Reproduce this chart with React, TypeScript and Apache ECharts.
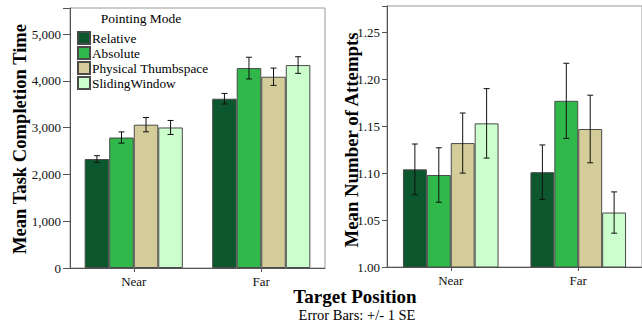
import React, { useEffect, useRef } from "react";
import * as echarts from "echarts";

const categories = ["Near", "Far"];
const modes = ["Relative", "Absolute", "Physical Thumbspace", "SlidingWindow"];
const colors = ["#0c572d", "#30b84b", "#d4cd9a", "#ccfdcc"];

// Mean task completion time (ms) per mode: [Near, Far]
const timeRelative = [2330, 3620];
const timeAbsolute = [2790, 4275];
const timePhysical = [3065, 4090];
const timeSliding = [3005, 4340];
// Standard errors
const timeSERelative = [72, 113];
const timeSEAbsolute = [120, 232];
const timeSEPhysical = [153, 185];
const timeSESliding = [150, 178];

// Mean number of attempts
const attRelative = [1.104, 1.101];
const attAbsolute = [1.098, 1.177];
const attPhysical = [1.132, 1.147];
const attSliding = [1.153, 1.058];
const attSERelative = [0.027, 0.029];
const attSEAbsolute = [0.029, 0.04];
const attSEPhysical = [0.032, 0.036];
const attSESliding = [0.037, 0.022];

const timeTicks = [0, 1000, 2000, 3000, 4000, 5000];
const attTicks = [1.0, 1.05, 1.1, 1.15, 1.2, 1.25];

const FONT = "'Liberation Serif', 'Times New Roman', serif";

export default function App() {
  const ref = useRef<HTMLDivElement>(null);
  useEffect(() => {
    if (!ref.current) return;
    const chart = echarts.init(ref.current, undefined, { renderer: "svg" });
    const timeMeans = [timeRelative, timeAbsolute, timePhysical, timeSliding];
    const timeSEs = [timeSERelative, timeSEAbsolute, timeSEPhysical, timeSESliding];
    const attMeans = [attRelative, attAbsolute, attPhysical, attSliding];
    const attSEs = [attSERelative, attSEAbsolute, attSEPhysical, attSESliding];
    const gaps = [0.23, 0.25];

    const series: any[] = [];
    [timeMeans, attMeans].forEach((means, g) => {
      means.forEach((vals, i) => {
        series.push({
          type: "bar",
          name: modes[i],
          xAxisIndex: g,
          yAxisIndex: g,
          data: vals,
          barGap: "0%",
          barCategoryGap: gaps[g] * 100 + "%",
          itemStyle: { color: colors[i], borderColor: "#4a4a4a", borderWidth: 1 },
        });
      });
    });
    [
      [timeMeans, timeSEs],
      [attMeans, attSEs],
    ].forEach(([means, ses], g) => {
      means.forEach((vals: number[], i: number) => {
        series.push({
          type: "custom",
          xAxisIndex: g,
          yAxisIndex: g,
          z: 10,
          silent: true,
          data: vals.map((v, k) => [k, v, ses[i][k]]),
          encode: { x: 0, y: 1 },
          renderItem: (params: any, api: any) => {
            const cat = api.value(0);
            const mean = api.value(1);
            const se = api.value(2);
            const band = api.size([1, 0])[0];
            const barW = (band * (1 - gaps[g])) / 4;
            const base = api.coord([cat, mean]);
            const x = base[0] + (i - 1.5) * barW;
            const top = api.coord([cat, mean + se])[1];
            const bot = api.coord([cat, mean - se])[1];
            const cap = 3;
            const st = { stroke: "#111", lineWidth: 1 };
            return {
              type: "group",
              children: [
                { type: "line", shape: { x1: x, y1: top, x2: x, y2: bot }, style: st },
                { type: "line", shape: { x1: x - cap, y1: top, x2: x + cap, y2: top }, style: st },
                { type: "line", shape: { x1: x - cap, y1: bot, x2: x + cap, y2: bot }, style: st },
              ],
            };
          },
        });
      });
    });

    const axisLine = { show: true, lineStyle: { color: "#555", width: 1 } };
    const labelStyle = { fontFamily: FONT, fontSize: 13, color: "#111" };

    chart.setOption({
      animation: false,
      grid: [
        { left: 70, top: 8, width: 255, height: 260, show: true, borderColor: "#999", borderWidth: 1, backgroundColor: "transparent" },
        { left: 387, top: 6, width: 264, height: 261, show: true, borderColor: "#999", borderWidth: 1, backgroundColor: "transparent" },
      ],
      xAxis: [0, 1].map((g) => ({
        type: "category",
        gridIndex: g,
        data: categories,
        axisLine,
        axisTick: { show: true, alignWithLabel: true, length: 4, lineStyle: { color: "#555" } },
        axisLabel: { ...labelStyle, margin: 7 },
      })),
      yAxis: [
        {
          type: "value",
          gridIndex: 0,
          min: 0,
          max: 5560,
          interval: 1000,
          axisLine,
          axisTick: { show: true, length: 7, lineStyle: { color: "#555" } },
          splitLine: { show: false },
          axisLabel: {
            ...labelStyle,
            margin: 9,
            formatter: (v: number) =>
              timeTicks.indexOf(v) >= 0 ? v.toLocaleString("en-US") : "",
          },
        },
        {
          type: "value",
          gridIndex: 1,
          min: 1.0,
          max: 1.278,
          interval: 0.05,
          axisLine,
          axisTick: { show: true, length: 5, lineStyle: { color: "#555" } },
          splitLine: { show: false },
          axisLabel: {
            ...labelStyle,
            margin: 7,
            formatter: (v: number) =>
              attTicks.some((t) => Math.abs(t - v) < 1e-6) ? v.toFixed(2) : "",
          },
        },
      ],
      legend: {
        data: modes,
        orient: "vertical",
        left: 77,
        top: 31,
        padding: 0,
        itemWidth: 12,
        itemHeight: 12,
        itemGap: 1,
        icon: "rect",
        selectedMode: false,
        textStyle: { fontFamily: FONT, fontSize: 13.3, lineHeight: 12, color: "#000", padding: [0, 0, 0, -3] },
      },
      graphic: [
        {
          type: "text",
          x: 141,
          y: 18,
          style: { text: "Pointing Mode", font: `13.5px ${FONT}`, fill: "#000", textAlign: "center", textVerticalAlign: "middle" },
        },
        {
          type: "text",
          x: 19,
          y: 139,
          rotation: Math.PI / 2,
          style: { text: "Mean Task Completion Time", font: `bold 18.6px ${FONT}`, fill: "#000", textAlign: "center", textVerticalAlign: "middle" },
        },
        {
          type: "text",
          x: 351,
          y: 140,
          rotation: Math.PI / 2,
          style: { text: "Mean Number of Attempts", font: `bold 18.8px ${FONT}`, fill: "#000", textAlign: "center", textVerticalAlign: "middle" },
        },
        {
          type: "text",
          x: 355,
          y: 296,
          style: { text: "Target Position", font: `bold 19px ${FONT}`, fill: "#000", textAlign: "center", textVerticalAlign: "middle" },
        },
        {
          type: "text",
          x: 357,
          y: 315,
          style: { text: "Error Bars: +/- 1 SE", font: `14.5px ${FONT}`, fill: "#000", textAlign: "center", textVerticalAlign: "middle" },
        },
      ],
      series,
    });
    return () => chart.dispose();
  }, []);
  return (
    <div
      ref={ref}
      style={{ position: "fixed", left: 0, top: 0, width: 642, height: 327, background: "#fff" }}
    />
  );
}
